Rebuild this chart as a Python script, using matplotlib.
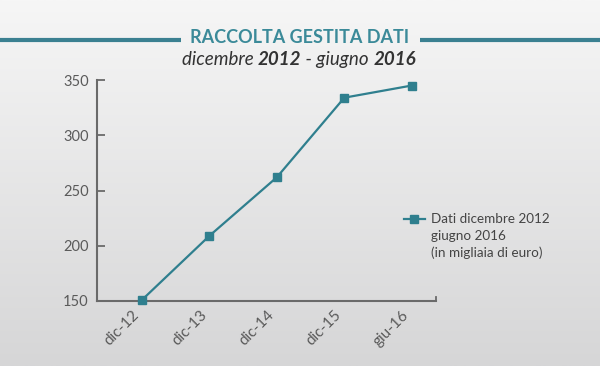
import numpy as np
import matplotlib
matplotlib.use("Agg")
import matplotlib.pyplot as plt
from matplotlib.lines import Line2D

# data
periods = ["dic-12", "dic-13", "dic-14", "dic-15", "giu-16"]
raccolta = [151, 209, 262, 334, 345]
y_ticks = [150, 200, 250, 300, 350]
legend_lines = ["Dati dicembre 2012", "giugno 2016", "(in migliaia di euro)"]

TEAL = "#2f7f8e"
GREY = "#5a5a5a"

plt.rcParams["font.family"] = ["Lato", "DejaVu Sans"]

fig = plt.figure(figsize=(6, 3.66), dpi=100)

# background gradient
bg = fig.add_axes([0, 0, 1, 1], zorder=-10)
grad = np.linspace(0, 1, 256).reshape(-1, 1)
bg.imshow(grad, aspect="auto", cmap=matplotlib.colors.LinearSegmentedColormap.from_list(
    "bg", ["#f6f6f6", "#d6d6d7"]), extent=[0, 1, 0, 1], origin="upper")
bg.set_xlim(0, 1); bg.set_ylim(0, 1)
bg.axis("off")

# header
bg.plot([0, 0.302], [0.891, 0.891], color="#3b8091", lw=3, solid_capstyle="butt")
bg.plot([0.700, 1], [0.891, 0.891], color="#3b8091", lw=3, solid_capstyle="butt")
bg.text(0.5, 0.897, "RACCOLTA GESTITA DATI", ha="center", va="center",
        fontsize=13, fontweight="bold", color="#3b8a99")

# subtitle in pieces (italic / bold italic)
parts = [("dicembre ", "normal"), ("2012", "bold"), (" - giugno ", "normal"), ("2016", "bold")]
sub_kw = dict(fontsize=13.5, style="italic", color="#333333")
t = bg.text(0.303, 0.838, parts[0][0], ha="left", va="center", fontweight=parts[0][1], **sub_kw)
for txt, w in parts[1:]:
    t = bg.annotate(txt, xy=(1, 0.5), xycoords=t, ha="left", va="center",
                    fontweight=w, **sub_kw)

ax = fig.add_axes([0.1617, 0.1776, 0.565, 0.6038])
ax.patch.set_alpha(0)
x = np.arange(len(periods))
line, = ax.plot(x, raccolta, color=TEAL, lw=1.6, marker="s", ms=6,
                clip_on=False, zorder=3)

ax.set_xlim(-0.667, 4.36)
ax.set_ylim(150, 350)
ax.set_yticks(y_ticks)
ax.set_xticks(x)
ax.set_xticklabels(periods, rotation=45, ha="right", va="top", fontsize=11, color=GREY)
ax.tick_params(axis="x", length=0, pad=5)
ax.tick_params(axis="y", direction="in", length=6, width=1.3, color="#6a6a6a",
               labelsize=10.5, labelcolor=GREY, pad=6)
for s in ["top", "right"]:
    ax.spines[s].set_visible(False)
for s in ["left", "bottom"]:
    ax.spines[s].set_color("#6a6a6a")
    ax.spines[s].set_linewidth(1.5)
# small end tick on x axis
ax.plot([4.36, 4.36], [150, 154], color="#6a6a6a", lw=1.3, clip_on=False)

blank = Line2D([], [], linestyle="none")
ax.legend([line, blank, blank], legend_lines, loc="upper left",
          bbox_to_anchor=(0.665, 0.432), bbox_transform=fig.transFigure,
          frameon=False, fontsize=9.7, handlelength=1.5, handletextpad=0.5,
          labelspacing=0.35, labelcolor="#444444", borderaxespad=0)

fig.savefig("out.png", dpi=100)
